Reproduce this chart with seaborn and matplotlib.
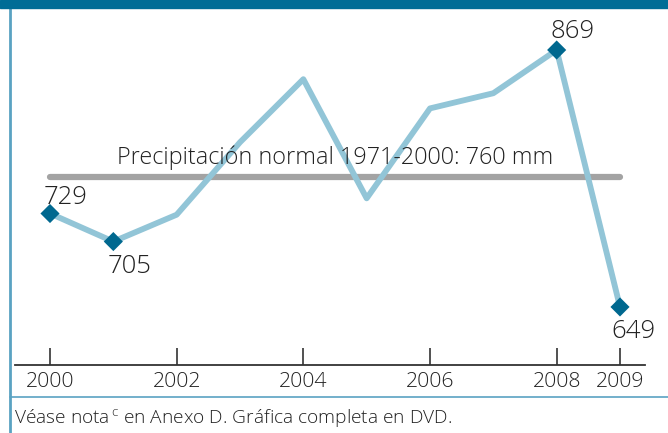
import matplotlib
matplotlib.use("Agg")
import matplotlib.pyplot as plt
import seaborn as sns
import pandas as pd
from matplotlib.patches import Rectangle
from matplotlib.lines import Line2D

years = [2000, 2001, 2002, 2003, 2004, 2005, 2006, 2007, 2008, 2009]
precip = [729, 705, 728, 790, 844, 742, 819, 832, 869, 649]
marked_years = [2000, 2001, 2008, 2009]
tick_years = [2000, 2002, 2004, 2006, 2008, 2009]
normal_value = 760
normal_label = "Precipitación normal 1971-2000: 760 mm"
footer = "Véase nota$^{\\,\\mathregular{c}}$ en Anexo D. Gráfica completa en DVD."

df = pd.DataFrame({"year": years, "precip": precip})
dm = df[df["year"].isin(marked_years)]

sns.set_theme(style="white")
plt.rcParams['font.family'] = ['Open Sans', 'DejaVu Sans']
plt.rcParams['font.weight'] = 'light'
plt.rcParams['mathtext.default'] = 'regular'

W, H = 668, 433
fig = plt.figure(figsize=(W / 100, H / 100), dpi=100)

def fx(px):
    return px / W

def fy(py):
    return 1 - py / H

ax = fig.add_axes([fx(15), fy(365), fx(645) - fx(15), fy(8) - fy(365)])
ax.set_facecolor("white")
ppy = 63.33
ax.set_xlim(2000 - 35 / ppy, 2009 + 25 / ppy)
scale = 1.168
ax.set_ylim(869 - (365 - 50) / scale, 869 + (50 - 8) / scale)

ax.plot([2000, 2009], [normal_value, normal_value], color="#a3a3a3", lw=4.5,
        solid_capstyle="round", zorder=1)
sns.lineplot(data=df, x="year", y="precip", ax=ax, color="#92c5d7", lw=4.2,
             zorder=2, legend=False)
sns.scatterplot(data=dm, x="year", y="precip", ax=ax, marker="D", s=95,
                color="#00688f", edgecolor="none", zorder=3, legend=False)

ax.text(2000 + 67 / ppy, normal_value + 7 / scale, normal_label, fontsize=16.8,
        color="#222222", ha="left", va="bottom", zorder=4, fontweight="light")

offsets = {2000: (16, 16, "center"), 2001: (16, -25, "center"),
           2008: (16, 19, "center"), 2009: (13, -25, "center")}
for yr, val in zip(years, precip):
    if yr in offsets:
        dx, dy, ha = offsets[yr]
        ax.text(yr + dx / ppy, val + dy / scale, str(val), fontsize=18.5,
                color="#222222", ha=ha, va="center", zorder=4, fontweight="light")

for s in ["top", "right", "left"]:
    ax.spines[s].set_visible(False)
ax.spines["bottom"].set_color("#333333")
ax.spines["bottom"].set_linewidth(1.3)
ax.set_yticks([])
ax.set_xticks(tick_years)
ax.set_xticklabels([str(t) for t in tick_years], fontweight="light")
ax.tick_params(axis="x", direction="in", length=12, width=1.2, color="#333333",
               labelsize=15.3, labelcolor="#222222", pad=5, bottom=True)
ax.set_xlabel("")
ax.set_ylabel("")

fig.add_artist(Rectangle((0, fy(8)), 1, 8 / H, transform=fig.transFigure,
                         color="#006d96", zorder=5))
fig.add_artist(Line2D([fx(10), fx(10)], [0, fy(8)], transform=fig.transFigure,
                      color="#5aa2c2", lw=2))
fig.add_artist(Line2D([fx(10), 1], [fy(397), fy(397)], transform=fig.transFigure,
                      color="#5aa2c2", lw=1.2))
fig.text(fx(14), fy(418), footer, fontsize=13.8, color="#222222", ha="left",
         va="center", fontweight="light")

fig.savefig("out.png", dpi=100)
